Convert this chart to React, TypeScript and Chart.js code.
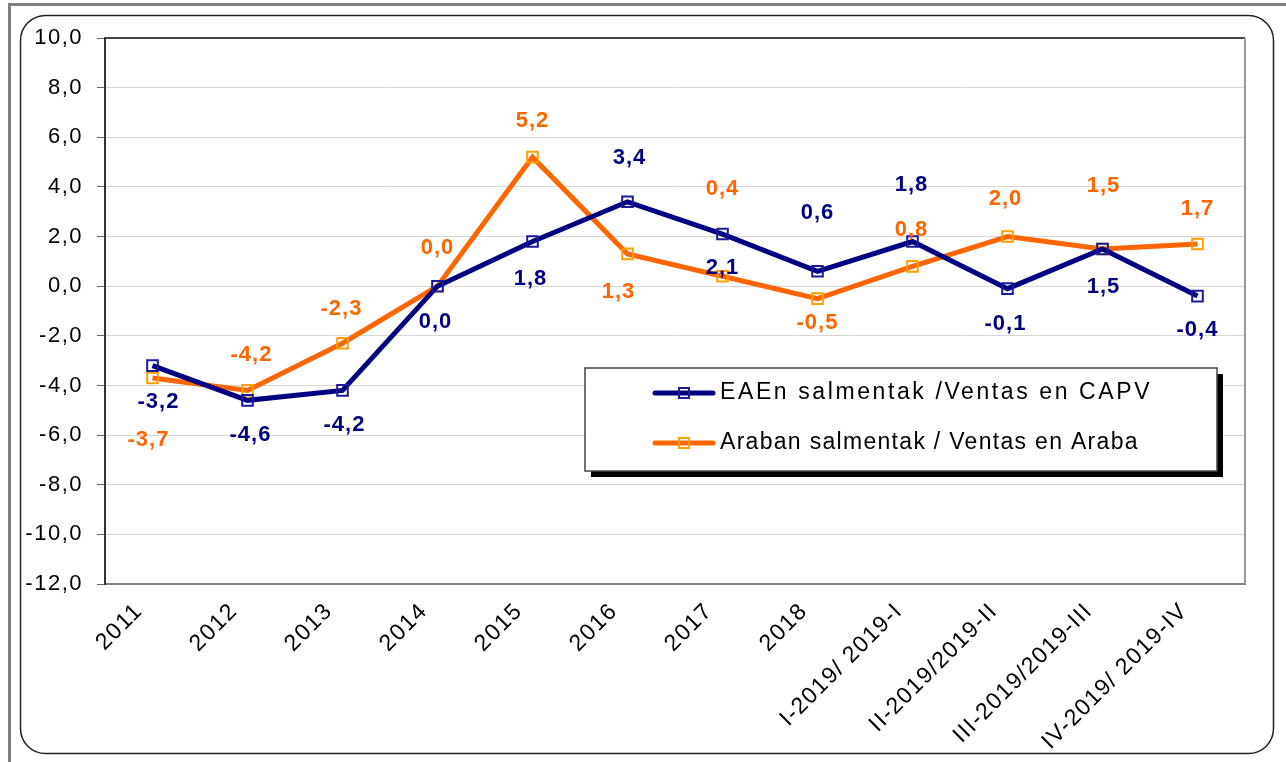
import React, { useEffect, useRef } from 'react';
import { Chart, registerables } from 'chart.js';

Chart.register(...registerables);

const categories = [
  '2011', '2012', '2013', '2014', '2015', '2016', '2017', '2018',
  'I-2019/ 2019-I', 'II-2019/2019-II', 'III-2019/2019-III', 'IV-2019/ 2019-IV',
];
const capvValues = [-3.2, -4.6, -4.2, 0.0, 1.8, 3.4, 2.1, 0.6, 1.8, -0.1, 1.5, -0.4];
const arabaValues = [-3.7, -4.2, -2.3, 0.0, 5.2, 1.3, 0.4, -0.5, 0.8, 2.0, 1.5, 1.7];
const capvName = 'EAEn salmentak /Ventas en CAPV';
const arabaName = 'Araban salmentak / Ventas en Araba';
const yMin = -12;
const yMax = 10;
const yStep = 2;

// label placement (pixel offsets from the point, style only)
const capvLabelOffsets = [[6, 36], [3, 35], [2, 35], [-2, 36], [-2, 37], [2, -44], [0, 34], [0, -58], [-1, -57], [-2, 35], [1, 38], [0, 34]];
const arabaLabelOffsets = [[-4, 62], [4, -35], [-1, -34], [0, -38], [0, -36], [-9, 38], [0, -87], [0, 24], [-1, -36], [-2, -38], [1, -63], [0, -35]];

const FONT = "'Liberation Sans', Arial, sans-serif";
const NAVY = '#000080';
const NAVY_MARK = '#1a1a9a';
const ORANGE = '#FF6600';
const ORANGE_MARK = '#FFA000';

const fmt = (v: number) => Number(v).toFixed(1).replace('.', ',');

const decorPlugin = {
  id: 'decor',
  beforeDraw(chart: any) {
    const ctx = chart.ctx;
    ctx.save();
    ctx.fillStyle = '#ffffff';
    ctx.fillRect(0, 0, chart.width, chart.height);
    ctx.fillStyle = '#808080';
    ctx.fillRect(8, 3, chart.width - 8, 3);
    ctx.fillRect(8, 3, 3, chart.height - 3);
    ctx.beginPath();
    ctx.strokeStyle = '#222';
    ctx.lineWidth = 1.5;
    (ctx as any).roundRect(20.5, 15.5, 1253, 738, 25);
    ctx.stroke();
    ctx.restore();
    (ctx as any).letterSpacing = '1.5px';
  },
  afterDraw(chart: any) {
    const ctx = chart.ctx;
    (ctx as any).letterSpacing = '0px';
    const { left, right, top } = chart.chartArea;
    ctx.save();
    // top and right borders of plot area
    ctx.strokeStyle = '#444';
    ctx.lineWidth = 2;
    ctx.beginPath();
    ctx.moveTo(left, top);
    ctx.lineTo(right, top);
    ctx.stroke();
    ctx.strokeStyle = '#999';
    ctx.beginPath();
    ctx.moveTo(right, top);
    ctx.lineTo(right, chart.chartArea.bottom);
    ctx.stroke();

    // x labels
    const xs = chart.scales.x;
    ctx.font = `23px ${FONT}`;
    (ctx as any).letterSpacing = '1.4px';
    ctx.fillStyle = '#000';
    ctx.textAlign = 'right';
    ctx.textBaseline = 'alphabetic';
    categories.forEach((c, i) => {
      const px = xs.getPixelForValue(i);
      ctx.save();
      ctx.translate(px - 9, 612);
      ctx.rotate(-Math.PI / 4);
      ctx.fillText(c, 0, 0);
      ctx.restore();
    });

    // data labels
    ctx.font = `bold 22px ${FONT}`;
    (ctx as any).letterSpacing = '1px';
    ctx.textAlign = 'center';
    ctx.textBaseline = 'middle';
    const drawLabels = (dsIndex: number, values: number[], offs: number[][], color: string) => {
      const meta = chart.getDatasetMeta(dsIndex);
      ctx.fillStyle = color;
      meta.data.forEach((pt: any, i: number) => {
        const [dx, dy] = offs[i];
        ctx.fillText(fmt(values[i]), pt.x + dx, pt.y + dy);
      });
    };
    drawLabels(0, capvValues, capvLabelOffsets, NAVY);
    drawLabels(1, arabaValues, arabaLabelOffsets, ORANGE);

    // legend
    const bx = 585, by = 368, bw = 632, bh = 103;
    ctx.fillStyle = '#000';
    ctx.fillRect(bx + 6, by + 6, bw, bh);
    ctx.fillStyle = '#fff';
    ctx.fillRect(bx, by, bw, bh);
    ctx.strokeStyle = '#444';
    ctx.lineWidth = 1.5;
    ctx.strokeRect(bx, by, bw, bh);
    const items = [
      { name: capvName, color: NAVY, mark: NAVY_MARK, spacing: '2.6px' },
      { name: arabaName, color: ORANGE, mark: ORANGE_MARK, spacing: '1.3px' },
    ];
    items.forEach((it, i) => {
      const y = 393 + i * 50;
      ctx.strokeStyle = it.color;
      ctx.lineWidth = 5;
      ctx.lineCap = 'round';
      ctx.beginPath();
      ctx.moveTo(655, y);
      ctx.lineTo(713, y);
      ctx.stroke();
      ctx.lineCap = 'butt';
      ctx.strokeStyle = it.mark;
      ctx.lineWidth = 2;
      ctx.strokeRect(679, y - 5, 10, 10);
      ctx.fillStyle = '#000';
      ctx.font = `23px ${FONT}`;
      (ctx as any).letterSpacing = it.spacing;
      ctx.textAlign = 'left';
      ctx.textBaseline = 'middle';
      ctx.fillText(it.name, 720, y);
    });
    (ctx as any).letterSpacing = '0px';
    ctx.restore();
  },
};

export default function App() {
  const ref = useRef<HTMLCanvasElement | null>(null);
  useEffect(() => {
    if (!ref.current) return;
    const chart = new Chart(ref.current, {
      type: 'line',
      data: {
        labels: categories,
        datasets: [
          {
            label: capvName,
            data: capvValues,
            borderColor: NAVY,
            borderWidth: 5,
            pointStyle: 'rect',
            pointRadius: 7.5,
            pointBorderWidth: 2,
            pointBorderColor: NAVY_MARK,
            pointBackgroundColor: 'rgba(0,0,0,0)',
            tension: 0,
          },
          {
            label: arabaName,
            data: arabaValues,
            borderColor: ORANGE,
            borderWidth: 5,
            pointStyle: 'rect',
            pointRadius: 7.5,
            pointBorderWidth: 2,
            pointBorderColor: ORANGE_MARK,
            pointBackgroundColor: 'rgba(0,0,0,0)',
            tension: 0,
          },
        ],
      },
      options: {
        animation: false,
        responsive: false,
        maintainAspectRatio: false,
        layout: { padding: { left: 0, right: 41, top: 38, bottom: 0 } },
        plugins: {
          legend: { display: false },
          tooltip: { enabled: false },
        },
        scales: {
          x: {
            type: 'category',
            offset: true,
            ticks: { display: false },
            grid: { display: false },
            border: { display: true, color: '#808080', width: 2 },
            afterFit: (s: any) => { s.height = 178; },
          },
          y: {
            min: yMin,
            max: yMax,
            ticks: {
              stepSize: yStep,
              padding: 14,
              color: '#000',
              font: { size: 22, family: FONT },
              callback: (v: any) => fmt(v),
            },
            grid: { color: '#d6d6d6', tickColor: '#666', tickLength: 8, lineWidth: 1 },
            border: { display: true, color: '#333', width: 2 },
            afterFit: (s: any) => { s.width = 105; },
          },
        },
      },
      plugins: [decorPlugin],
    });
    return () => chart.destroy();
  }, []);
  return (
    <div style={{ position: 'fixed', left: 0, top: 0, width: 1286, height: 762 }}>
      <canvas ref={ref} width={1286} height={762} style={{ width: 1286, height: 762, display: 'block' }} />
    </div>
  );
}
